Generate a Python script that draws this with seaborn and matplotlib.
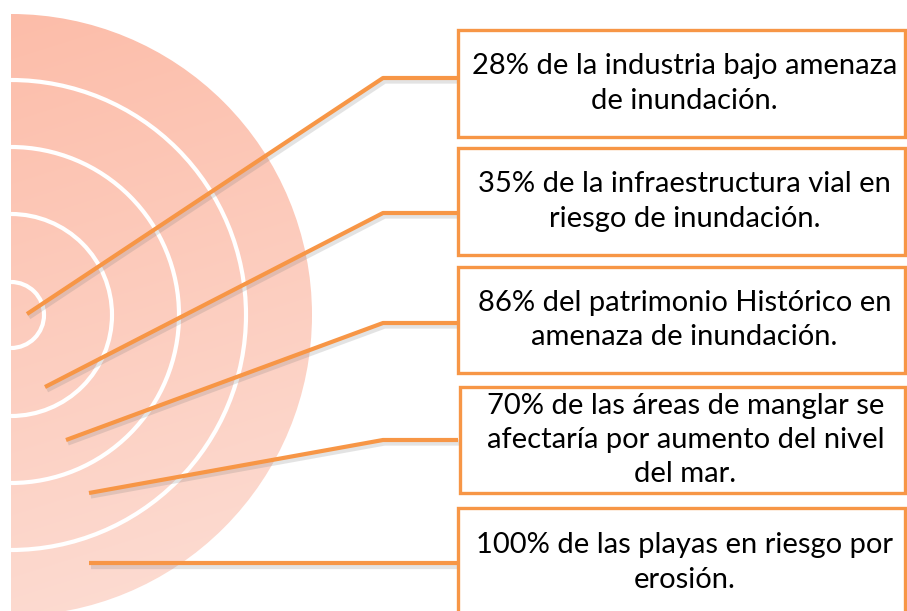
import numpy as np
import matplotlib
matplotlib.use("Agg")
import matplotlib.pyplot as plt
import matplotlib.patheffects as pe
from matplotlib.patches import Wedge, Arc, Rectangle
import seaborn as sns

# contenido del gráfico
porcentajes = [28, 35, 86, 70, 100]
textos = [
    "de la industria bajo amenaza\nde inundación.",
    "de la infraestructura vial en\nriesgo de inundación.",
    "del patrimonio Histórico en\namenaza de inundación.",
    "de las áreas de manglar se\nafectaría por aumento del nivel\ndel mar.",
    "de las playas en riesgo por\nerosión.",
]

# disposición (pixeles)
caja_arriba = [30, 148, 267, 387, 508]
caja_abajo = [137, 255, 373, 493, 622]
caja_izq = [458, 458, 458, 460, 458]
caja_der = 905
linea_inicio = [(27, 314), (45, 387), (66, 440), (89, 493), (89, 563)]
linea_y = [78, 213, 323, 440, 563]
codo_x = 383

centro = (11, 315)
radio_disco = 301
radios_anillos = [33, 101, 168, 235]

naranja = "#F79646"

sns.set_theme(style="white")
plt.rcParams["font.family"] = ["Lato", "DejaVu Sans"]

fig = plt.figure(figsize=(9.07, 6.11), dpi=100)
ax = fig.add_axes([0, 0, 1, 1])
ax.set_xlim(0, 907)
ax.set_ylim(611, 0)
ax.axis("off")

# disco con degradado
yy, xx = np.mgrid[0:611, 0:907]
t = np.clip((0.3 * xx + 0.95 * yy) / (0.3 * 300 + 0.95 * 611), 0, 1)
c0 = np.array([252, 188, 168]) / 255
c1 = np.array([253, 222, 213]) / 255
img = c0[None, None, :] * (1 - t[..., None]) + c1[None, None, :] * t[..., None]
im = ax.imshow(img, extent=(0, 907, 611, 0), zorder=1, interpolation="bilinear")
disco = Wedge(centro, radio_disco, -90, 90, transform=ax.transData,
              facecolor="none", edgecolor="none")
ax.add_patch(disco)
im.set_clip_path(disco)

for r in radios_anillos:
    ax.add_patch(Arc(centro, 2 * r, 2 * r, theta1=-90, theta2=90,
                     color="white", lw=3.0, zorder=2))

# líneas guía
sombra = [pe.SimpleLineShadow(offset=(1.2, -1.8), shadow_color="#777777", alpha=0.2,
                              linewidth=4.5),
          pe.Normal()]
for (x0, y0), yl in zip(linea_inicio, linea_y):
    ax.plot([x0, codo_x, caja_izq[0]], [y0, yl, yl], color=naranja, lw=3.0,
            solid_capstyle="butt", zorder=3, path_effects=sombra)

# cajas de texto
for p, txt, top, bot, left in zip(porcentajes, textos, caja_arriba, caja_abajo, caja_izq):
    ax.add_patch(Rectangle((left, top), caja_der - left, bot - top, facecolor="white",
                           edgecolor=naranja, lw=2.4, zorder=4))
    cy = (top + min(bot, 617)) / 2
    ax.text((left + caja_der) / 2 + 3, cy, f"{p}% {txt}", ha="center", va="center",
            multialignment="center", fontsize=21, color="black", linespacing=1.4,
            zorder=5)

plt.savefig("out.png", dpi=100)
